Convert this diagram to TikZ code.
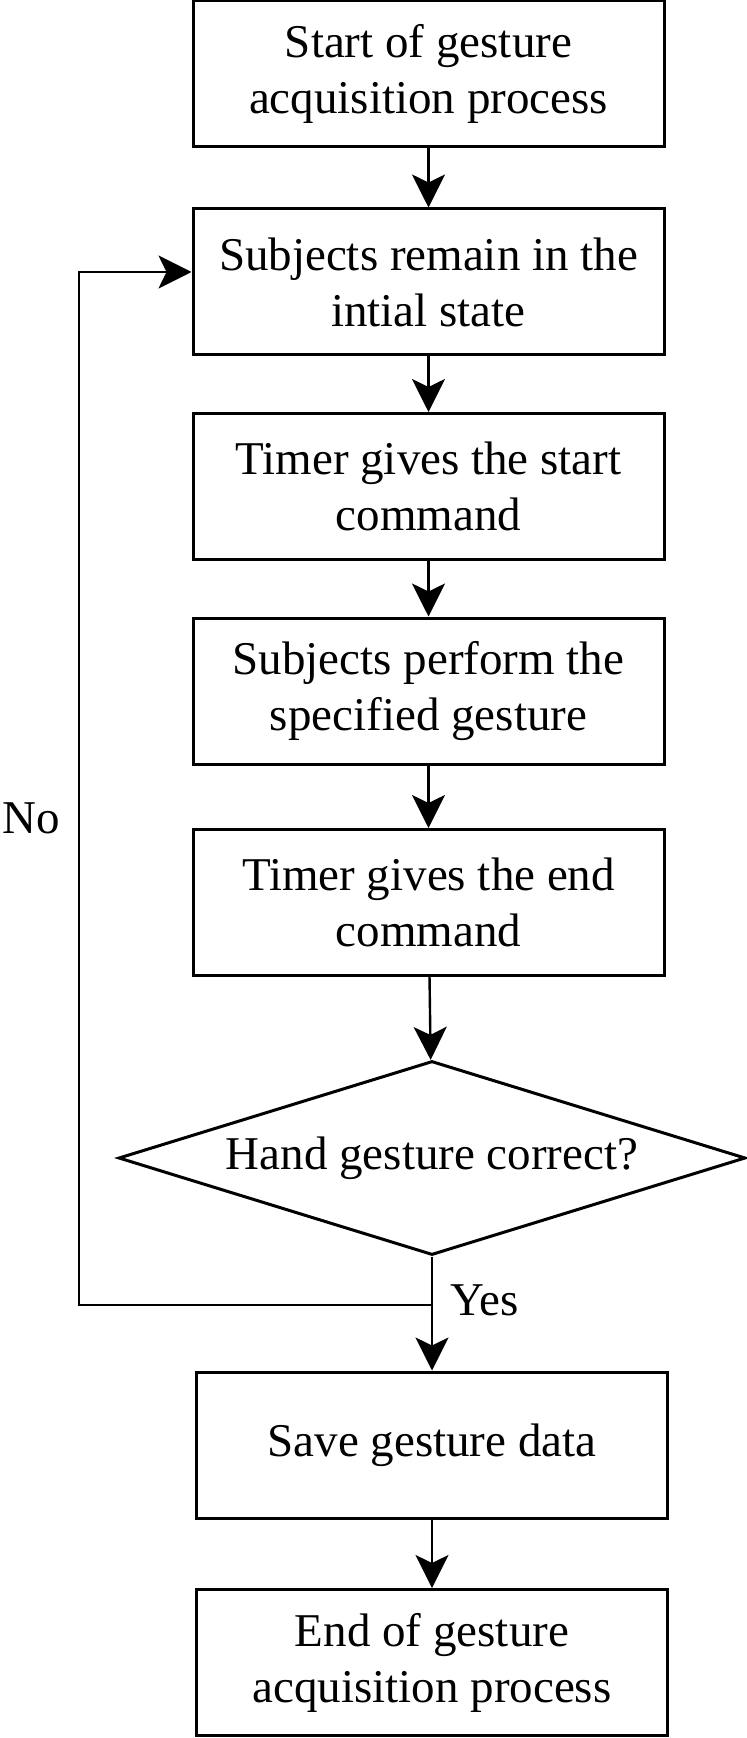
\documentclass[tikz,border=0pt]{standalone}
\usepackage{fontspec}
\setmainfont{Liberation Serif}
\usetikzlibrary{shapes.geometric,arrows.meta,positioning}

\begin{document}
\begin{tikzpicture}[x=0.5pt,y=0.5pt,
    box/.style={draw,line width=1.5pt,minimum width=235.5pt,minimum height=73pt,inner sep=0pt,align=center,font=\fontsize{23.5}{28}\selectfont},
    decision/.style={draw,diamond,aspect=3.232,line width=1.5pt,minimum width=313.5pt,minimum height=97pt,inner sep=0pt,font=\fontsize{23.5}{28}\selectfont},
    flow/.style={line width=1.2pt,-{Stealth[length=16.5pt,width=16.5pt,inset=4pt]}},
    lbl/.style={inner sep=0pt,font=\fontsize{23.5}{28}\selectfont}]
  \useasboundingbox (0,0) rectangle (746,-1738);
  % steps
  \node[box] (start) at (428.5,-74) {Start of gesture\\acquisition process};
  \node[box] (init) at (428.5,-282) {Subjects remain in the\\intial state};
  \node[box] (go) at (428.5,-486.5) {Timer gives the start\\command};
  \node[box] (perform) at (428.5,-691) {Subjects perform the\\specified gesture};
  \node[box] (stop) at (428.5,-902.5) {Timer gives the end\\command};
  % decision
  \node[decision] (check) at (432,-1158) {Hand gesture correct?};
  \node[box] (save) at (432,-1445) {Save gesture data};
  \node[box] (finish) at (432,-1662.5) {End of gesture\\acquisition process};
  % arrows
  \draw[flow] (start) -- (init);
  \draw[flow] (init) -- (go);
  \draw[flow] (go) -- (perform);
  \draw[flow] (perform) -- (stop);
  \draw[flow] (stop) -- (check);
  \draw[flow] (check) -- (save);
  \draw[flow] (save) -- (finish);
  % loop back
  \coordinate (back) at (79,-1305);
  \draw[flow] (check.south) |- (back) |- ([yshift=5pt]init.west);
  \node[lbl,anchor=base west] (yes) at (450,-1315) {Yes};
  \node[lbl,anchor=base west] (no) at (2,-833) {No};
\end{tikzpicture}
\end{document}
